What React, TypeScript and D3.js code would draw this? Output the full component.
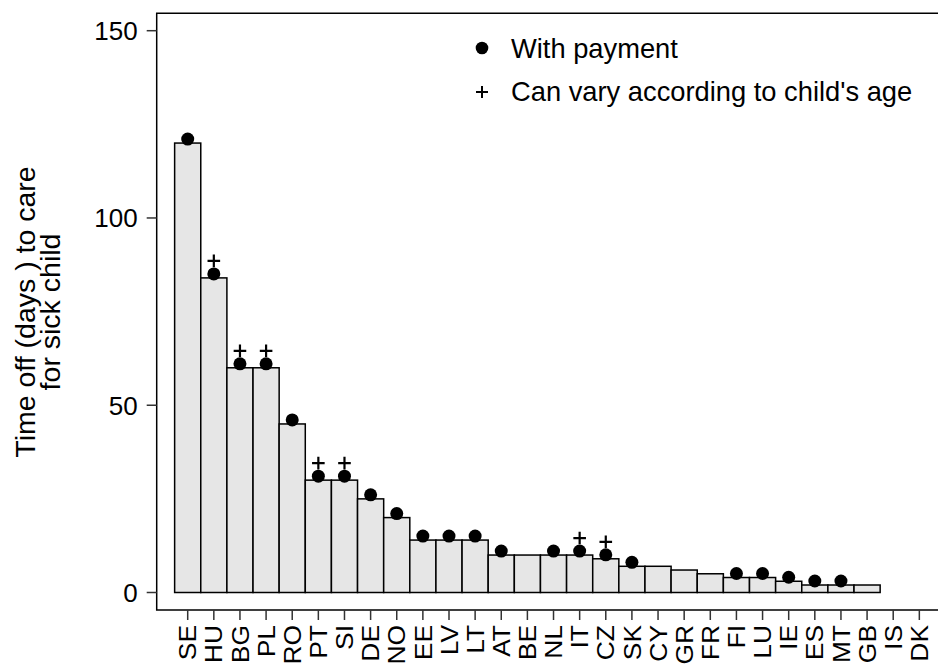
import React, { useRef, useEffect } from 'react';
import * as d3 from 'd3';

const countries = ['SE', 'HU', 'BG', 'PL', 'RO', 'PT', 'SI', 'DE', 'NO', 'EE', 'LV', 'LT', 'AT', 'BE', 'NL',
  'IT', 'CZ', 'SK', 'CY', 'GR', 'FR', 'FI', 'LU', 'IE', 'ES', 'MT', 'GB', 'IS', 'DK'];
const daysOff = [120, 84, 60, 60, 45, 30, 30, 25, 20, 14, 14, 14, 10, 10, 10,
  10, 9, 7, 7, 6, 5, 4, 4, 3, 2, 2, 2, 0, 0];
const withPayment = ['SE', 'HU', 'BG', 'PL', 'RO', 'PT', 'SI', 'DE', 'NO', 'EE', 'LV', 'LT', 'AT', 'NL',
  'IT', 'CZ', 'SK', 'FI', 'LU', 'IE', 'ES', 'MT'];
const variesWithAge = ['HU', 'BG', 'PL', 'PT', 'SI', 'IT', 'CZ'];
const yTicks = [0, 50, 100, 150];
const legendItems = ['With payment', "Can vary according to child's age"];
const yTitle = ['Time off (days ) to care', 'for sick child'];

const W = 938;
const H = 664;
const FONT = '"Liberation Sans", Arial, sans-serif';

const App: React.FC = () => {
  const ref = useRef<SVGSVGElement | null>(null);

  useEffect(() => {
    if (!ref.current) return;
    const svg = d3.select(ref.current);
    svg.selectAll('*').remove();

    const frame = { left: 156.7, top: 13.3, bottom: 610 };
    const step = 26.13;
    const first = 187.7 - step / 2;

    const x = d3.scaleBand<string>()
      .domain(countries)
      .range([first, first + step * countries.length])
      .padding(0);

    const y = d3.scaleLinear().domain([0, 150]).range([592.5, 30.7]);

    const data = countries.map((c, i) => ({ c, v: daysOff[i] }));

    // frame (right side falls outside the picture)
    svg.append('path')
      .attr('d', `M${W + 20},${frame.top}H${frame.left}V${frame.bottom}H${W + 20}`)
      .attr('fill', 'none')
      .attr('stroke', '#000')
      .attr('stroke-width', 1.5);

    // y axis ticks
    const yg = svg.append('g').attr('font-family', FONT).attr('font-size', 26);
    yg.selectAll('line')
      .data(yTicks)
      .enter()
      .append('line')
      .attr('x1', frame.left - 10)
      .attr('x2', frame.left)
      .attr('y1', d => y(d))
      .attr('y2', d => y(d))
      .attr('stroke', '#333')
      .attr('stroke-width', 1.5);
    yg.selectAll('text')
      .data(yTicks)
      .enter()
      .append('text')
      .attr('x', frame.left - 19)
      .attr('y', d => y(d))
      .attr('dy', '0.36em')
      .attr('text-anchor', 'end')
      .text(d => d);

    // x axis ticks + labels (a bit stretched along the reading direction, like the original)
    const xg = svg.append('g').attr('font-family', FONT).attr('font-size', 24);
    xg.selectAll('line')
      .data(countries)
      .enter()
      .append('line')
      .attr('x1', d => x(d)! + x.bandwidth() / 2)
      .attr('x2', d => x(d)! + x.bandwidth() / 2)
      .attr('y1', frame.bottom)
      .attr('y2', frame.bottom + 10)
      .attr('stroke', '#333')
      .attr('stroke-width', 1.5);
    xg.selectAll('text')
      .data(countries)
      .enter()
      .append('text')
      .attr('transform', d => `translate(${x(d)! + x.bandwidth() / 2},${frame.bottom + 15}) rotate(-90) scale(1.1,1)`)
      .attr('dy', '0.36em')
      .attr('text-anchor', 'end')
      .text(d => d);

    // y title
    const tg = svg.append('g')
      .attr('transform', 'translate(35,312) rotate(-90)')
      .attr('font-family', FONT)
      .attr('font-size', 28.5)
      .attr('text-anchor', 'middle');
    tg.selectAll('text')
      .data(yTitle)
      .enter()
      .append('text')
      .attr('x', 0)
      .attr('y', (_, i) => i * 25)
      .text(d => d);

    // bars
    svg.append('g')
      .selectAll('rect')
      .data(data.filter(d => d.v > 0))
      .enter()
      .append('rect')
      .attr('x', d => x(d.c)!)
      .attr('y', d => y(d.v))
      .attr('width', x.bandwidth())
      .attr('height', d => y(0) - y(d.v))
      .attr('fill', '#e6e6e6')
      .attr('stroke', '#000')
      .attr('stroke-width', 1.5);

    // payment dots
    svg.append('g')
      .selectAll('circle')
      .data(data.filter(d => withPayment.includes(d.c)))
      .enter()
      .append('circle')
      .attr('cx', d => x(d.c)! + x.bandwidth() / 2)
      .attr('cy', d => y(d.v) - 4)
      .attr('r', 6.5)
      .attr('fill', '#000');

    // age-dependent plus marks
    const plus = (cx: number, cy: number, s: number) =>
      `M${cx - s},${cy}H${cx + s}M${cx},${cy - s}V${cy + s}`;
    svg.append('g')
      .selectAll('path')
      .data(data.filter(d => variesWithAge.includes(d.c)))
      .enter()
      .append('path')
      .attr('d', d => plus(x(d.c)! + x.bandwidth() / 2, y(d.v) - 17, 6.3))
      .attr('stroke', '#000')
      .attr('stroke-width', 2.2)
      .attr('fill', 'none');

    // legend
    const lg = svg.append('g').attr('font-family', FONT).attr('font-size', 27.3);
    lg.append('circle').attr('cx', 482).attr('cy', 48).attr('r', 6.3).attr('fill', '#000');
    lg.append('path').attr('d', plus(482, 92, 6)).attr('stroke', '#000').attr('stroke-width', 2);
    lg.selectAll('text')
      .data(legendItems)
      .enter()
      .append('text')
      .attr('x', 511)
      .attr('y', (_, i) => 57.5 + i * 43)
      .text(d => d);
  }, []);

  return (
    <svg
      ref={ref}
      width={W}
      height={H}
      viewBox={`0 0 ${W} ${H}`}
      style={{ position: 'absolute', left: 0, top: 0, background: '#fff' }}
    />
  );
};

export default App;
